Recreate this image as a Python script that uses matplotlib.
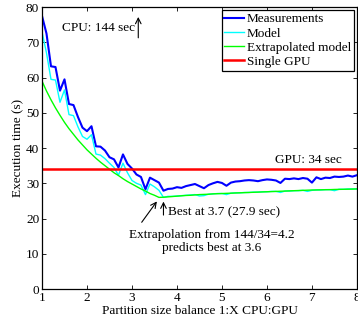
import numpy as np
import matplotlib
matplotlib.use("Agg")
import matplotlib.pyplot as plt

plt.rcParams['font.family'] = ['Liberation Serif', 'DejaVu Serif']
plt.rcParams['mathtext.fontset'] = 'stix'

# partition balance 1:X, sampled every 0.1 from 1 to 8
balance = np.round(np.arange(1.0, 8.01, 0.1), 1)

measurements = [
    77.5, 72.5, 63.2, 63.0, 56.3, 59.5, 52.5, 52.2, 48.8, 45.8,
    44.8, 46.2, 40.5, 40.4, 39.3, 37.4, 36.8, 34.5, 38.2, 35.5,
    34.2, 32.5, 31.8, 28.3, 31.6, 30.9, 30.2, 27.9, 28.4, 28.5,
    28.9, 28.7, 29.2, 29.5, 29.8, 29.2, 28.6, 29.5, 30.0, 30.4,
    30.1, 29.3, 30.2, 30.5, 30.6, 30.8, 30.9, 30.8, 30.6, 30.9,
    31.1, 31.0, 30.8, 30.1, 31.3, 31.2, 31.4, 31.2, 31.5, 31.3,
    30.2, 31.7, 31.2, 31.6, 31.5, 31.9, 31.8, 31.9, 32.2, 31.9,
    32.3,
]

model = [
    73.0, 67.0, 59.5, 59.3, 53.0, 56.5, 49.5, 49.2, 46.0, 43.3,
    42.5, 43.8, 38.3, 38.0, 37.0, 35.7, 34.5, 32.3, 35.7, 33.0,
    30.8, 30.0, 29.5, 26.8, 29.8, 29.0, 28.0, 26.0, 26.3, 26.3,
    26.4, 26.5, 26.6, 26.7, 26.8, 26.4, 26.5, 26.9, 27.0, 27.1,
    27.1, 26.8, 27.2, 27.3, 27.3, 27.4, 27.4, 27.5, 27.5, 27.6,
    27.6, 27.7, 27.7, 27.4, 27.8, 27.8, 27.9, 27.9, 28.0, 27.7,
    28.0, 28.1, 28.1, 28.2, 28.2, 27.9, 28.3, 28.3, 28.4, 28.4,
    28.4,
]

extrapolated = [
    59.0, 56.2, 53.7, 51.4, 49.3, 47.3, 45.5, 43.9, 42.3, 40.9,
    39.5, 38.3, 37.1, 36.0, 35.0, 34.0, 33.0, 32.2, 31.3, 30.5,
    29.8, 29.1, 28.4, 27.8, 27.1, 26.6, 26.0, 26.05, 26.15, 26.25,
    26.35, 26.45, 26.55, 26.6, 26.7, 26.8, 26.85, 26.9, 27.0, 27.05,
    27.1, 27.15, 27.2, 27.25, 27.3, 27.35, 27.4, 27.45, 27.5, 27.55,
    27.6, 27.65, 27.7, 27.75, 27.8, 27.85, 27.9, 27.95, 28.0, 28.05,
    28.1, 28.12, 28.15, 28.18, 28.2, 28.25, 28.28, 28.3, 28.33, 28.36,
    28.4,
]

single_gpu = 34
cpu_time = 144

fs = 9.5

fig = plt.figure(figsize=(3.58, 3.24), dpi=100)
ax = fig.add_axes([0.1173, 0.108, 0.8797, 0.870])

ax.plot(balance, measurements, color='#0000ff', lw=1.5, label='Measurements')
ax.plot(balance, model, color='#00ffff', lw=1.0, label='Model')
ax.plot(balance, extrapolated, color='#00ff00', lw=1.0, label='Extrapolated model')
ax.axhline(single_gpu, color='#ff0000', lw=1.8, label='Single GPU')

ax.set_xlim(1, 8)
ax.set_ylim(0, 80)
ax.set_xticks(range(1, 9))
ax.set_yticks(range(0, 81, 10))
ax.tick_params(direction='in', top=True, right=True, labelsize=fs,
               length=3, width=0.6, pad=2)
for s in ax.spines.values():
    s.set_linewidth(0.9)

ax.set_xlabel('Partition size balance 1:X CPU:GPU', fontsize=fs, labelpad=1)
ax.set_ylabel('Execution time (s)', fontsize=fs, labelpad=1)

# annotations
ax.text(1.45, 74.2, 'CPU: %d sec' % cpu_time, fontsize=fs, va='center')
ax.annotate('', xy=(3.14, 78), xytext=(3.14, 70.5),
            arrowprops=dict(arrowstyle='->', lw=0.8, color='black'))
ax.text(6.18, 36.6, 'GPU: %d sec' % single_gpu, fontsize=fs, va='center')
ax.annotate('', xy=(3.7, 25.6), xytext=(3.7, 20.2),
            arrowprops=dict(arrowstyle='->', lw=0.8, color='black'))
ax.text(3.8, 21.9, 'Best at 3.7 (27.9 sec)', fontsize=fs, va='center')
ax.annotate('', xy=(3.59, 25.5), xytext=(3.18, 18.3),
            arrowprops=dict(arrowstyle='->', lw=0.8, color='black'))
ax.text(4.78, 13.6, 'Extrapolation from 144/34=4.2\npredicts best at 3.6',
        fontsize=fs, ha='center', va='center', linespacing=1.1)

leg = ax.legend(loc='upper right', fontsize=fs, handlelength=1.5,
                handletextpad=0.2, borderpad=0.2, labelspacing=0.15,
                borderaxespad=0.25, fancybox=False, framealpha=1)
leg.get_frame().set_edgecolor('black')
leg.get_frame().set_linewidth(0.9)

fig.savefig('out.png', dpi=100)
